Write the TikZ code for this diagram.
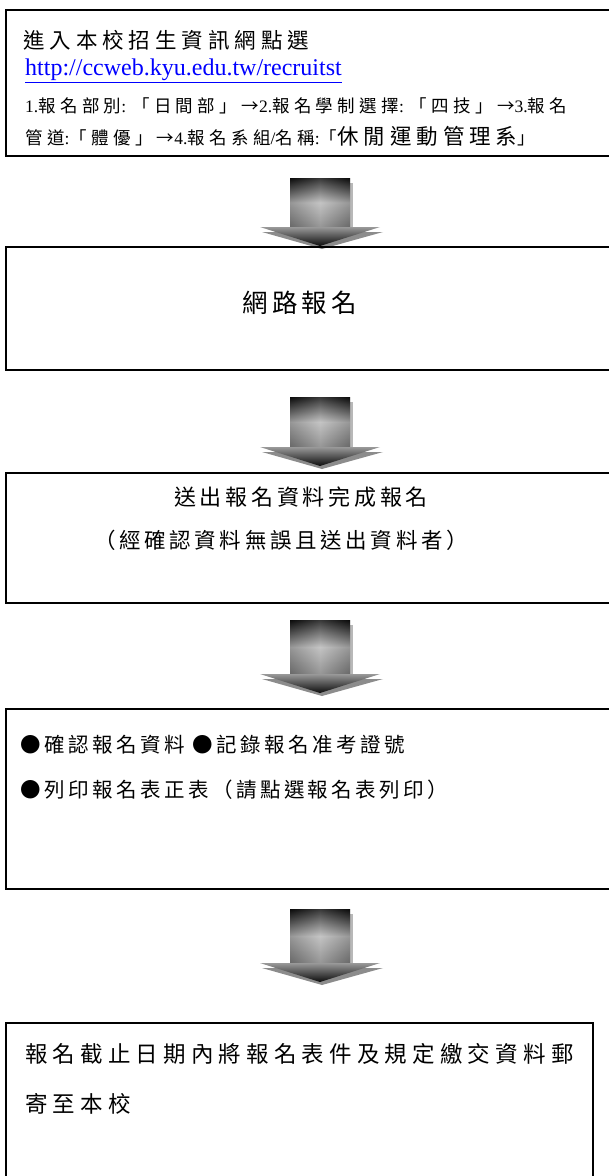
\documentclass[tikz,border=0pt]{standalone}
\usepackage{fontspec}
\setmainfont{Liberation Serif}
\newfontfamily\cjk{Noto Sans CJK TC}[LetterSpace=23]
\newfontfamily\cjks{Noto Sans CJK TC}[LetterSpace=25]
\newfontfamily\cjkb{Noto Sans CJK TC}[LetterSpace=17]
\newfontfamily\cjkc{Noto Sans CJK TC}[LetterSpace=17]
\usetikzlibrary{calc}
\tikzset{
  box/.style={draw=black, line width=1.8pt, anchor=north west, inner sep=0pt},
  txt/.style={inner sep=0pt, anchor=west},
}
\newcommand\dnarrow[2]{%
  \pgfmathsetmacro\ya{#1}\pgfmathsetmacro\yt{#2}\pgfmathsetmacro\yb{#2-19}%
  \fill[black!28] (293,\ya+5) rectangle (353,\yb);
  \shade[top color=black!95, bottom color=black!50, middle color=black!28] (290,\ya) rectangle (350,\yb);
  \shade[left color=black, right color=black, middle color=white, opacity=0.18] (290,\ya) rectangle (350,\yb);
  \fill[black!45] (262,\yb+5) -- (383,\yb+5) -- (322,\yt+3) -- cycle;
  \shade[top color=black!40, bottom color=black!95] (260,\yb) -- (380,\yb) -- (320,\yt) -- cycle;
}
\begin{document}
\begin{tikzpicture}[x=1pt,y=-1pt]
\path[use as bounding box] (0,0) rectangle (609,1176);
\clip (0,0) rectangle (609,1176);
% box 1
\node[box, minimum width=615pt, minimum height=146pt] (b1) at (5,9) {};
\node[txt, font=\fontsize{21.5}{21.5}\selectfont] (t1a) at (23,40) {\cjk 進入本校招生資訊網點選};
\node[txt, font=\fontsize{24}{24}\selectfont, text=blue] (t1b) at (25,71) {\underline{http://ccweb.kyu.edu.tw/recruitst}};
\node[txt, font=\fontsize{17.5}{17.5}\selectfont] (t1c) at (25,106) {1.{\cjks 報名部別}: {\cjks 「日間部」→}2.{\cjks 報名學制選擇}: {\cjks 「四技」→}3.{\cjks 報名}};
\node[txt, font=\fontsize{17.5}{17.5}\selectfont] (t1d) at (25,136) {{\cjks 管道}:{\cjks 「體優」→}4.{\cjks 報名系組}/{\cjks 名稱}:{\cjks 「}{\fontsize{21.5}{21.5}\selectfont\cjk 休閒運動管理系}{\cjks 」}};
% arrow 1
\dnarrow{178}{246}
% box 2
\node[box, minimum width=615pt, minimum height=123pt] (b2) at (5,246) {};
\node[txt, font=\fontsize{25.5}{25.5}\selectfont] (t2) at (242,303) {\cjkb 網路報名};
% arrow 2
\dnarrow{397}{466}
% box 3
\node[box, minimum width=615pt, minimum height=130pt] (b3) at (5,472) {};
\node[txt, font=\fontsize{22}{22}\selectfont] (t3a) at (174,497) {\cjkc 送出報名資料完成報名};
\node[txt, font=\fontsize{21.5}{21.5}\selectfont] (t3b) at (94,540) {\cjkc （經確認資料無誤且送出資料者）};
% arrow 3
\dnarrow{620}{693}
% box 4
\node[box, minimum width=615pt, minimum height=180pt] (b4) at (5,708) {};
\node[txt, font=\fontsize{20.5}{20.5}\selectfont] (t4a) at (20,745) {\cjkb ●確認報名資料 ●記錄報名准考證號};
\node[txt, font=\fontsize{20.5}{20.5}\selectfont] (t4b) at (20,790) {\cjkb ●列印報名表正表（請點選報名表列印）};
% arrow 4
\dnarrow{909}{982}
% box 5
\node[box, minimum width=587pt, minimum height=200pt] (b5) at (5,1022) {};
\node[txt, font=\fontsize{22.5}{22.5}\selectfont] (t5a) at (25,1054) {\cjk 報名截止日期內將報名表件及規定繳交資料郵};
\node[txt, font=\fontsize{22.5}{22.5}\selectfont] (t5b) at (25,1104) {\cjk 寄至本校};
\end{tikzpicture}
\end{document}
